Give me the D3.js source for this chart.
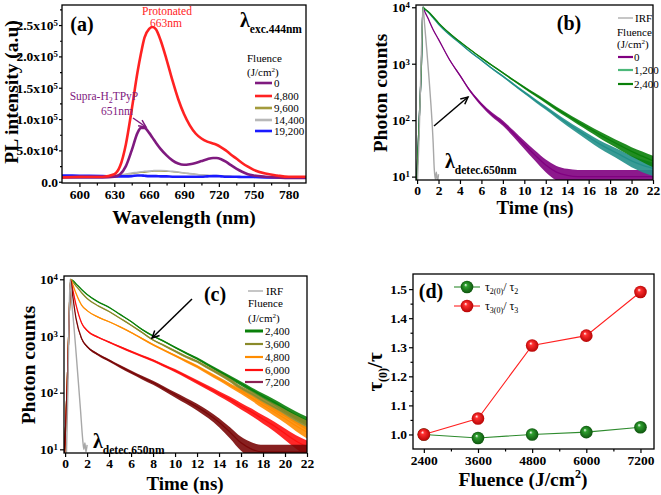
<!DOCTYPE html>
<html><head><meta charset="utf-8">
<script src="https://cdn.jsdelivr.net/npm/d3@7"></script>
<style>body{margin:0;background:#fff} svg{display:block} svg text{font-family:"Liberation Serif","Times New Roman","DejaVu Serif",serif !important}</style>
</head><body><svg id="c" width="661" height="495"></svg>
<script>
// ---------------- DATA ----------------
// Panel (a): PL spectra (intensity in units of 1e5)
const wlA = [585,600,620,630,635,640,645,650,653,656,660,663,666,670,675,680,685,690,695,700,705,710,715,718,722,726,730,735,740,745,750,760,770,780,795];
const plF0     = [0.07,0.07,0.07,0.08,0.12,0.25,0.5,0.78,0.86,0.86,0.78,0.7,0.62,0.52,0.42,0.34,0.29,0.27,0.28,0.3,0.33,0.36,0.38,0.38,0.36,0.32,0.27,0.21,0.16,0.12,0.1,0.08,0.07,0.06,0.06];
const plF4800  = [0.07,0.08,0.08,0.12,0.25,0.6,1.15,1.75,2.05,2.3,2.44,2.47,2.43,2.25,1.95,1.62,1.32,1.08,0.9,0.77,0.69,0.64,0.61,0.59,0.55,0.5,0.44,0.37,0.3,0.24,0.19,0.13,0.1,0.08,0.08];
const plF9600  = [0.1,0.1,0.1,0.1,0.11,0.12,0.13,0.14,0.15,0.15,0.16,0.165,0.17,0.17,0.165,0.16,0.15,0.14,0.13,0.12,0.11,0.1,0.1,0.1,0.095,0.09,0.085,0.08,0.08,0.075,0.07,0.07,0.065,0.06,0.06];
const plF14400 = [0.09,0.09,0.09,0.1,0.11,0.12,0.14,0.15,0.16,0.165,0.17,0.175,0.18,0.18,0.175,0.165,0.155,0.14,0.13,0.12,0.11,0.105,0.1,0.1,0.095,0.09,0.085,0.08,0.08,0.075,0.075,0.07,0.07,0.065,0.065];
const plF19200 = [0.1,0.095,0.09,0.085,0.085,0.085,0.09,0.1,0.1,0.095,0.09,0.09,0.09,0.085,0.085,0.08,0.08,0.08,0.08,0.08,0.08,0.085,0.09,0.09,0.085,0.08,0.08,0.08,0.075,0.075,0.075,0.07,0.07,0.07,0.07];
const legendA = ["0","4,800","9,600","14,400","19,200"];
const ticksAx = [600,630,660,690,720,750,780];
const ticksAy = [0,0.5,1,1.5,2,2.5];
const labelsAy = [["0.0",""],["5.0x10","4"],["1.0x10","5"],["1.5x10","5"],["2.0x10","5"],["2.5x10","5"]];

// Panel (b): decays (photon counts)
const tB = [-0.1,0,0.2,0.4,0.55,0.7,1,1.5,2,3,4,5,6,7,8,9,10,11,12,13,14,15,16,17,18,19,20,21,22];
const decB0    = [5,12,100,900,10000,8500,6500,4000,2700,1200,620,320,190,125,89,58,37,24,16,12,10.5,10,10,10,10,10,10,10,10];
const decB1200 = [5,12,100,900,10000,9300,8300,6500,5000,3300,2300,1600,1150,820,600,430,310,225,165,120,88,66,50,38,30,24,19,16,14];
const decB2400 = [5,12,100,900,10000,9400,8500,6800,5300,3500,2450,1750,1270,930,690,510,380,285,215,160,122,93,72,56,44,35,28,23,19];
const tIrfB  = [0,0.2,0.4,0.55,0.7,0.9,1.1,1.3,1.5,1.6,1.7,1.8,1.9,2.0];
const irfB   = [5,60,1500,10000,5000,1800,600,180,40,14,9,12,8,11];
const legendB = ["0","1,200","2,400"];

// Panel (c): decays (photon counts)
const tC = [-0.1,0,0.2,0.35,0.5,0.7,1,1.5,2,3,4,5,6,7,8,9,10,11,12,13,14,15,16,17,18,19,20,21,22];
const decC2400 = [5,15,150,1500,10000,9500,8300,6600,5400,4000,3200,2400,1800,1300,1000,800,630,500,400,310,240,186,145,112,87,68,52,40,32];
const decC3600 = [5,15,150,1500,10000,9000,7600,5800,4600,3400,2700,2050,1550,1150,850,680,540,430,355,275,215,165,120,95,72,56,44,34,27];
const decC4800 = [5,15,150,1500,10000,8000,5600,3500,2800,2150,1780,1450,1150,900,700,560,450,360,290,225,175,135,105,80,60,46,35,26,20];
const decC6000 = [5,15,150,1500,9500,6500,3500,1700,1250,950,780,640,530,440,370,300,245,195,155,122,96,76,58,45,34,26,19,14,11];
const decC7200 = [5,15,150,1500,9800,5000,2000,900,650,470,370,290,230,185,150,118,92,72,56,42,30,20,13,10,9,9,9,9,9];
const tIrfC = [0.1,0.25,0.35,0.45,0.6,0.8,1.0,1.2,1.4,1.6,1.7,1.8,1.9,2.0];
const irfC  = [5,100,1500,10000,4000,1500,500,160,50,15,10,13,9,12];
const legendC = ["2,400","3,600","4,800","6,000","7,200"];
const ticksT = [0,2,4,6,8,10,12,14,16,18,20,22];
const ticksLog = [10,100,1000,10000];

// Panel (d): lifetime ratios
const fluD = [2400,3600,4800,6000,7200];
const tau2 = [1.0,0.988,1.0,1.008,1.025];
const tau3 = [1.0,1.055,1.306,1.34,1.49];
const ticksDx = [2400,3600,4800,6000,7200];
const ticksDy = [1.0,1.1,1.2,1.3,1.4,1.5];

// ---------------- DRAWING ----------------
const svg = d3.select("#c");
const TF = 13.5;

function txt(g, x, y, s, opt={}) {
  const t = g.append("text").attr("x",x).attr("y",y)
    .attr("font-size",opt.size||12).attr("font-weight",opt.bold?"bold":"normal")
    .attr("fill",opt.fill||"#000").attr("text-anchor",opt.anchor||"start").text(s);
  if (opt.rot) t.attr("transform",`rotate(${opt.rot},${x},${y})`);
  return t;
}
function frame(x0,y0,x1,y1){
  svg.append("rect").attr("x",x0).attr("y",y0).attr("width",x1-x0).attr("height",y1-y0)
    .attr("fill","none").attr("stroke","#000").attr("stroke-width",1.3);
}
function styleAxis(g){
  g.attr("font-family",null);
  g.select(".domain").remove();
  g.selectAll("line").attr("stroke","#000").attr("stroke-width",1.2);
  g.selectAll("text").attr("font-weight","bold").attr("font-size",TF).attr("fill","#000");
}
function supLabels(g, labels){
  g.selectAll(".tick text").each(function(d,i){
    const t = d3.select(this); t.text(null);
    t.append("tspan").text(labels[i][0]);
    if (labels[i][1]) t.append("tspan").attr("dy","-0.45em").attr("font-size",TF*0.65).text(labels[i][1]);
  });
}
function clip(id,x0,y0,x1,y1){
  svg.append("clipPath").attr("id",id).append("rect").attr("x",x0).attr("y",y0).attr("width",x1-x0).attr("height",y1-y0);
}
function arrow(x1,y1,x2,y2,color){
  svg.append("line").attr("x1",x1).attr("y1",y1).attr("x2",x2).attr("y2",y2).attr("stroke",color).attr("stroke-width",1.5);
  const a = Math.atan2(y2-y1,x2-x1), L=8, w=0.45;
  const p = [[x2-L*Math.cos(a-w),y2-L*Math.sin(a-w)],[x2,y2],[x2-L*Math.cos(a+w),y2-L*Math.sin(a+w)]];
  svg.append("polyline").attr("points",p.map(q=>q.join(",")).join(" ")).attr("fill","none").attr("stroke",color).attr("stroke-width",1.5);
}
function lambda(x,y,sub){
  const t = svg.append("text").attr("x",x).attr("y",y).attr("font-weight","bold");
  t.append("tspan").attr("font-size",20).text("λ");
  t.append("tspan").attr("font-size",11.5).attr("dy",6).text(sub);
}

// ===== Panel (a) =====
{
  const X0=62,X1=306,Y0=5,Y1=183;
  const x = d3.scaleLinear().domain([585,795]).range([X0,X1]);
  const y = d3.scaleLinear().domain([-0.02,2.82]).range([Y1,Y0]);
  clip("clipA",X0,Y0,X1,Y1);
  const series = [
    {v:plF9600,c:"#a39b3c",w:1.2},{v:plF14400,c:"#b8b8b8",w:1.6},{v:plF19200,c:"#1a1aff",w:2.6},
    {v:plF0,c:"#7f1a7f",w:2.6},{v:plF4800,c:"#ff2222",w:2.6}];
  const gl = svg.append("g").attr("clip-path","url(#clipA)");
  series.forEach(s=>{
    gl.append("path").attr("d",d3.line().x((d,i)=>x(wlA[i])).y(d=>y(d)).curve(d3.curveMonotoneX)(s.v))
      .attr("fill","none").attr("stroke",s.c).attr("stroke-width",s.w);
  });
  frame(X0,Y0,X1,Y1);
  const gx = svg.append("g").attr("transform",`translate(0,${Y1})`).call(d3.axisBottom(x).tickValues(ticksAx).tickSize(4).tickPadding(2));
  styleAxis(gx);
  const gxm = svg.append("g").attr("transform",`translate(0,${Y1})`).call(d3.axisBottom(x).tickValues([615,645,675,705,735,765]).tickSize(2.5).tickFormat(""));
  styleAxis(gxm);
  const gy = svg.append("g").attr("transform",`translate(${X0},0)`).call(d3.axisLeft(y).tickValues(ticksAy).tickSize(3).tickPadding(1));
  styleAxis(gy); supLabels(gy, labelsAy);
  const gym = svg.append("g").attr("transform",`translate(${X0},0)`).call(d3.axisLeft(y).tickValues([0.25,0.75,1.25,1.75,2.25,2.75]).tickSize(2).tickFormat(""));
  styleAxis(gym);
  txt(svg,11,92,"PL intensity (a.u)",{size:19.5,bold:true,anchor:"middle",rot:-90}).attr("dy","0.35em");
  txt(svg,184,224,"Wavelength (nm)",{size:19.5,bold:true,anchor:"middle"});
  txt(svg,82,31,"(a)",{size:20,bold:true,anchor:"middle"});
  txt(svg,167,15,"Protonated",{size:11.5,fill:"#ff2222",anchor:"middle"});
  txt(svg,166,26.5,"663nm",{size:11.5,fill:"#ff2222",anchor:"middle"});
  const sp = svg.append("text").attr("x",104).attr("y",100).attr("font-size",11.5).attr("fill","#7f1a7f").attr("text-anchor","middle");
  sp.append("tspan").text("Supra-H"); sp.append("tspan").attr("font-size",8).attr("dy",3).text("2"); sp.append("tspan").attr("dy",-3).text("TPyP");
  txt(svg,117,114.5,"651nm",{size:11.5,fill:"#7f1a7f",anchor:"middle"});
  arrow(133,118,146,127,"#7f1a7f");
  lambda(240,27,"exc.444nm");
  txt(svg,247,62,"Fluence",{size:11});
  const jc = txt(svg,247,76,"(J/cm",{size:11}); jc.append("tspan").attr("font-size",7).attr("dy",-4).text("2"); jc.append("tspan").attr("dy",4).text(")");
  const legCols = ["#7f1a7f","#ff2222","#a39b3c","#b8b8b8","#1a1aff"];
  const legY = [83,96,108,120,131];
  legendA.forEach((l,i)=>{
    svg.append("line").attr("x1",255).attr("x2",272).attr("y1",legY[i]).attr("y2",legY[i]).attr("stroke",legCols[i]).attr("stroke-width",2.6);
    txt(svg,274,legY[i]+4,l,{size:11});
  });
}

// decay-panel helper
function decayPanel(id,X0,X1,Y0,Y1,dom,seriesList,irfT,irfV){
  const x = d3.scaleLinear().domain([-0.1,22]).range([X0,X1]);
  const y = d3.scaleLog().domain(dom).range([Y1,Y0]);
  clip(id,X0,Y0,X1,Y1);
  const g = svg.append("g").attr("clip-path",`url(#${id})`);
  const k = 1.0;
  seriesList.forEach(s=>{
    const area = d3.area().x((d,i)=>x(s.t[i]))
      .y0(d=>y(Math.max(d - k*Math.sqrt(d),1)))
      .y1(d=>y(d + k*Math.sqrt(d))).curve(d3.curveMonotoneX);
    g.append("path").attr("d",area(s.v)).attr("fill",s.c).attr("opacity",0.9);
    g.append("path").attr("d",d3.line().x((d,i)=>x(s.t[i])).y(d=>y(d)).curve(d3.curveMonotoneX)(s.v))
      .attr("fill","none").attr("stroke",s.c).attr("stroke-width",1.3);
  });
  g.append("path").attr("d",d3.line().x((d,i)=>x(irfT[i])).y(d=>y(d)).curve(d3.curveMonotoneX)(irfV))
    .attr("fill","none").attr("stroke","#a8a8a8").attr("stroke-width",1.4);
  frame(X0,Y0,X1,Y1);
  const gx = svg.append("g").attr("transform",`translate(0,${Y1})`).call(d3.axisBottom(x).tickValues(ticksT).tickSize(4).tickPadding(1));
  styleAxis(gx);
  const gy = svg.append("g").attr("transform",`translate(${X0},0)`).call(d3.axisLeft(y).tickValues(ticksLog).tickSize(4).tickPadding(2));
  styleAxis(gy); supLabels(gy, ticksLog.map(v=>["10",String(Math.round(Math.log10(v)))]));
  return {x,y};
}

// ===== Panel (b) =====
{
  const X0=416,X1=653,Y0=5,Y1=180;
  decayPanel("clipB",X0,X1,Y0,Y1,[Math.pow(10,0.94),Math.pow(10,4.04)],[
    {t:tB,v:decB0,c:"#800080"},{t:tB,v:decB1200,c:"#22908a"},{t:tB,v:decB2400,c:"#0a800a"}],tIrfB,irfB);
  txt(svg,380,93,"Photon counts",{size:19.5,bold:true,anchor:"middle",rot:-90}).attr("dy","0.35em");
  txt(svg,535,214,"Time (ns)",{size:19,bold:true,anchor:"middle"});
  txt(svg,569,30,"(b)",{size:20,bold:true,anchor:"middle"});
  arrow(434,126,468,97,"#000");
  lambda(445,168,"detec.650nm");
  svg.append("line").attr("x1",618).attr("x2",633).attr("y1",18).attr("y2",18).attr("stroke","#a8a8a8").attr("stroke-width",1.3);
  txt(svg,635,22,"IRF",{size:11});
  txt(svg,617,36,"Fluence",{size:11});
  const jc = txt(svg,617,48,"(J/cm",{size:11}); jc.append("tspan").attr("font-size",7).attr("dy",-4).text("2"); jc.append("tspan").attr("dy",4).text(")");
  const cols = ["#800080","#4cb87a","#0a800a"], ys=[57,70,84];
  legendB.forEach((l,i)=>{
    svg.append("line").attr("x1",618).attr("x2",633).attr("y1",ys[i]).attr("y2",ys[i]).attr("stroke",cols[i]).attr("stroke-width",2.2);
    txt(svg,634,ys[i]+4,l,{size:11});
  });
}

// ===== Panel (c) =====
{
  const X0=64,X1=307,Y0=276,Y1=453;
  decayPanel("clipC",X0,X1,Y0,Y1,[Math.pow(10,0.935),Math.pow(10,4.058)],[
    {t:tC,v:decC2400,c:"#0a800a"},{t:tC,v:decC3600,c:"#8a8a2a"},{t:tC,v:decC4800,c:"#ff8c00"},
    {t:tC,v:decC6000,c:"#ff1010"},{t:tC,v:decC7200,c:"#7a0808"}],tIrfC,irfC);
  txt(svg,28,365,"Photon counts",{size:19.5,bold:true,anchor:"middle",rot:-90}).attr("dy","0.35em");
  txt(svg,185,490,"Time (ns)",{size:19,bold:true,anchor:"middle"});
  txt(svg,215,301,"(c)",{size:20,bold:true,anchor:"middle"});
  arrow(192,299,152,338,"#000");
  lambda(93,448,"detec.650nm");
  svg.append("line").attr("x1",248).attr("x2",263).attr("y1",291).attr("y2",291).attr("stroke","#a8a8a8").attr("stroke-width",1.3);
  txt(svg,266,295,"IRF",{size:11});
  txt(svg,248,307,"Fluence",{size:11});
  const jc = txt(svg,248,322,"(J/cm",{size:11}); jc.append("tspan").attr("font-size",7).attr("dy",-4).text("2"); jc.append("tspan").attr("dy",4).text(")");
  const cols = ["#0a800a","#8a8a2a","#ff8c00","#ff1010","#8b2252"], ys=[331,344,357,370,382];
  legendC.forEach((l,i)=>{
    svg.append("line").attr("x1",245).attr("x2",263).attr("y1",ys[i]).attr("y2",ys[i]).attr("stroke",cols[i]).attr("stroke-width",i==0?3:2.2);
    txt(svg,265,ys[i]+4,l,{size:11});
  });
}

// ===== Panel (d) =====
{
  const X0=413,X1=654,Y0=274,Y1=449;
  const x = d3.scaleLinear().domain([2160,7500]).range([X0,X1]);
  const y = d3.scaleLinear().domain([0.95,1.552]).range([Y1,Y0]);
  const defs = svg.append("defs");
  function grad(id,c1,c2){
    const g = defs.append("radialGradient").attr("id",id).attr("cx","50%").attr("cy","50%").attr("fx","38%").attr("fy","32%").attr("r","55%");
    g.append("stop").attr("offset","0%").attr("stop-color","#ffffff");
    g.append("stop").attr("offset","25%").attr("stop-color",c1);
    g.append("stop").attr("offset","100%").attr("stop-color",c2);
  }
  grad("gG","#2ea02e","#0b4d0b"); grad("gR","#ff3030","#b00000");
  frame(X0,Y0,X1,Y1);
  const gx = svg.append("g").attr("transform",`translate(0,${Y1})`).call(d3.axisBottom(x).tickValues(ticksDx).tickSize(4).tickPadding(2).tickFormat(d3.format("d")));
  styleAxis(gx);
  const gxm = svg.append("g").attr("transform",`translate(0,${Y1})`).call(d3.axisBottom(x).tickValues([3000,4200,5400,6600]).tickSize(2.5).tickFormat(""));
  styleAxis(gxm);
  const gy = svg.append("g").attr("transform",`translate(${X0},0)`).call(d3.axisLeft(y).tickValues(ticksDy).tickSize(4).tickPadding(2).tickFormat(d3.format(".1f")));
  styleAxis(gy);
  const gym = svg.append("g").attr("transform",`translate(${X0},0)`).call(d3.axisLeft(y).tickValues([1.05,1.15,1.25,1.35,1.45]).tickSize(2.5).tickFormat(""));
  styleAxis(gym);
  const line = d3.line().x((d,i)=>x(fluD[i])).y(d=>y(d));
  svg.append("path").attr("d",line(tau2)).attr("fill","none").attr("stroke","#2e8b2e").attr("stroke-width",1.1);
  svg.selectAll(".mg").data(tau2).enter().append("circle").attr("cx",(d,i)=>x(fluD[i])).attr("cy",d=>y(d)).attr("r",6.3).attr("fill","url(#gG)");
  svg.append("path").attr("d",line(tau3)).attr("fill","none").attr("stroke","#ff2020").attr("stroke-width",1.1);
  svg.selectAll(".mr").data(tau3).enter().append("circle").attr("cx",(d,i)=>x(fluD[i])).attr("cy",d=>y(d)).attr("r",6.3).attr("fill","url(#gR)");
  txt(svg,431,298,"(d)",{size:20,bold:true,anchor:"middle"});
  [[287,"#2e8b2e","url(#gG)","2"],[306,"#ff2020","url(#gR)","3"]].forEach(([yy,lc,fc,n])=>{
    svg.append("line").attr("x1",454).attr("x2",480).attr("y1",yy).attr("y2",yy).attr("stroke",lc).attr("stroke-width",1.1);
    svg.append("circle").attr("cx",467).attr("cy",yy).attr("r",6.3).attr("fill",fc);
    const t = svg.append("text").attr("x",485).attr("y",yy+4).attr("font-size",12);
    t.append("tspan").text("τ"); t.append("tspan").attr("font-size",8).attr("dy",3).text(n+"(0)");
    t.append("tspan").attr("dy",-3).text("/ τ"); t.append("tspan").attr("font-size",8).attr("dy",3).text(n);
  });
  const yt = svg.append("text").attr("x",375).attr("y",372).attr("font-weight","bold").attr("font-size",21)
    .attr("text-anchor","middle").attr("transform","rotate(-90,375,372)").attr("dy","0.35em");
  yt.append("tspan").text("τ"); yt.append("tspan").attr("font-size",12).attr("dy",5).text("(0)"); yt.append("tspan").attr("dy",-5).text("/τ");
  const xt = svg.append("text").attr("x",523).attr("y",486).attr("font-weight","bold").attr("font-size",19.5).attr("text-anchor","middle");
  xt.append("tspan").text("Fluence (J/cm"); xt.append("tspan").attr("font-size",12).attr("dy",-8).text("2"); xt.append("tspan").attr("dy",8).text(")");
}
</script></body></html>
